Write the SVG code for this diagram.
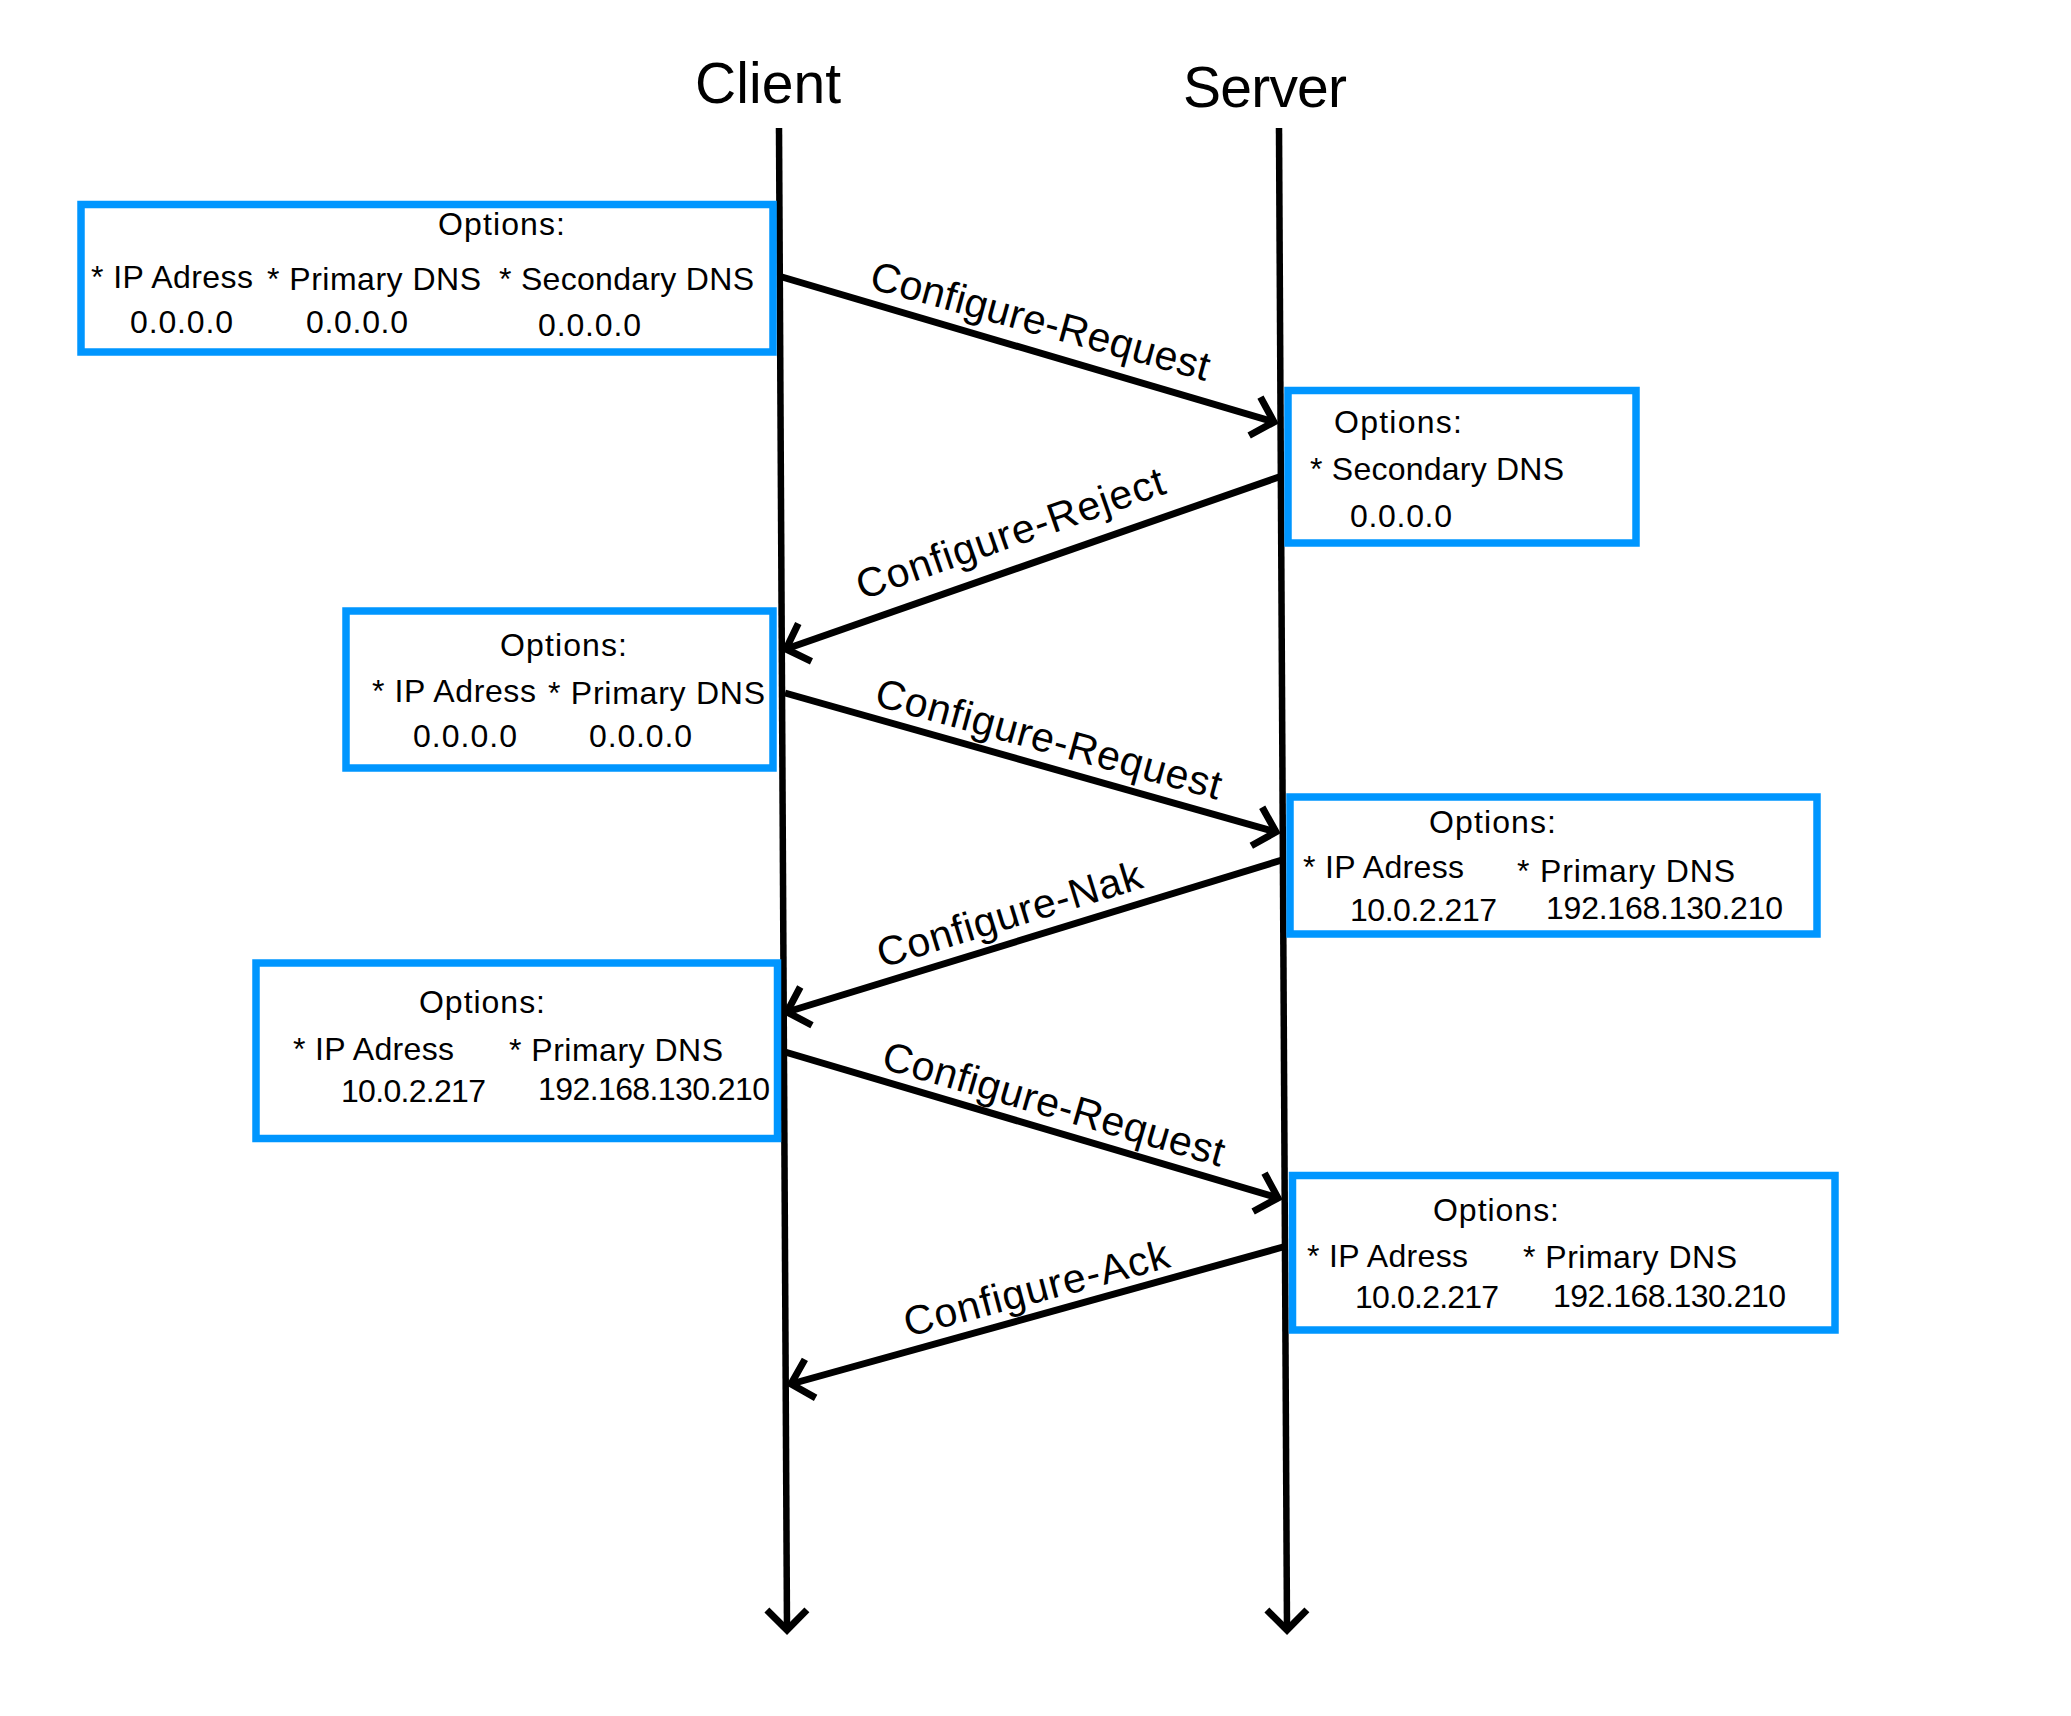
<svg xmlns="http://www.w3.org/2000/svg" width="2071" height="1716" viewBox="0 0 2071 1716">
<style>
  .box { fill: none; stroke: #0096FF; stroke-width: 7.5; }
  .t { font-family: "Liberation Sans", Arial, sans-serif; font-size: 32px; fill: #000; }
  .title { font-family: "Liberation Sans", Arial, sans-serif; font-size: 57px; fill: #000; }
  .lbl { font-family: "Liberation Sans", Arial, sans-serif; font-size: 41px; fill: #000; }
  .life { stroke: #000; stroke-width: 6.5; fill: none; }
  .msg { stroke: #000; stroke-width: 7; fill: none; marker-end: url(#vhead); }
</style>
<defs>
  <marker id="vhead" markerUnits="userSpaceOnUse" viewBox="-30 -30 40 60" refX="0" refY="0" markerWidth="40" markerHeight="60" orient="auto" overflow="visible">
    <path d="M-20,-20 L0,0 L-20,20" fill="none" stroke="#000" stroke-width="7" stroke-linejoin="miter"/>
  </marker>
</defs>
<rect width="2071" height="1716" fill="#fff"/>

<g id="client">
  <text class="title" x="695" y="103" textLength="146">Client</text>
</g>
<g id="server">
  <text class="title" x="1183" y="107" textLength="164">Server</text>
</g>

<g id="connectors">
  <line class="life" x1="779" y1="128" x2="787" y2="1630" style="marker-end:url(#vhead)"/>
  <line class="life" x1="1279" y1="128" x2="1287" y2="1630" style="marker-end:url(#vhead)"/>
  <line class="msg" x1="782" y1="277" x2="1274" y2="422"/>
  <line class="msg" x1="1279" y1="477" x2="786" y2="649"/>
  <line class="msg" x1="785" y1="693" x2="1276" y2="832"/>
  <line class="msg" x1="1282" y1="860" x2="787" y2="1012"/>
  <line class="msg" x1="785" y1="1052" x2="1278" y2="1198"/>
  <line class="msg" x1="1283" y1="1247" x2="791" y2="1384"/>
  <text class="lbl" transform="translate(868,288) rotate(15.4)" textLength="350">Configure-Request</text>
  <text class="lbl" transform="translate(862,600) rotate(-19.3)" textLength="324">Configure-Reject</text>
  <text class="lbl" transform="translate(873,705) rotate(15.4)" textLength="357">Configure-Request</text>
  <text class="lbl" transform="translate(882,968) rotate(-17.1)" textLength="275">Configure-Nak</text>
  <text class="lbl" transform="translate(880,1068) rotate(16.2)" textLength="354">Configure-Request</text>
  <text class="lbl" transform="translate(908,1337) rotate(-14.9)" textLength="273">Configure-Ack</text>
</g>

<g id="box1">
  <rect class="box" x="81" y="204.5" width="692" height="147.5"/>
  <text class="t" x="438" y="235" textLength="127">Options:</text>
  <text class="t" x="91" y="288" textLength="162">* IP Adress</text>
  <text class="t" x="267" y="290" textLength="214">* Primary DNS</text>
  <text class="t" x="499" y="290" textLength="255">* Secondary DNS</text>
  <text class="t" x="130" y="333" textLength="103">0.0.0.0</text>
  <text class="t" x="306" y="333" textLength="102">0.0.0.0</text>
  <text class="t" x="538" y="336" textLength="103">0.0.0.0</text>
</g>

<g id="box2">
  <rect class="box" x="1288" y="390.5" width="348" height="152.5"/>
  <text class="t" x="1334" y="433" textLength="128">Options:</text>
  <text class="t" x="1310" y="480" textLength="254">* Secondary DNS</text>
  <text class="t" x="1350" y="527" textLength="102">0.0.0.0</text>
</g>

<g id="box3">
  <rect class="box" x="346" y="611" width="427" height="157"/>
  <text class="t" x="500" y="656" textLength="127">Options:</text>
  <text class="t" x="372" y="702" textLength="164">* IP Adress</text>
  <text class="t" x="548" y="704" textLength="217">* Primary DNS</text>
  <text class="t" x="413" y="747" textLength="104">0.0.0.0</text>
  <text class="t" x="589" y="747" textLength="103">0.0.0.0</text>
</g>

<g id="box4">
  <rect class="box" x="1290" y="797" width="527" height="137"/>
  <text class="t" x="1429" y="833" textLength="127">Options:</text>
  <text class="t" x="1303" y="878" textLength="161">* IP Adress</text>
  <text class="t" x="1517" y="882" textLength="218">* Primary DNS</text>
  <text class="t" x="1350" y="921" textLength="147">10.0.2.217</text>
  <text class="t" x="1546" y="919" textLength="237">192.168.130.210</text>
</g>

<g id="box5">
  <rect class="box" x="256" y="963" width="521.5" height="175.5"/>
  <text class="t" x="419" y="1013" textLength="126">Options:</text>
  <text class="t" x="293" y="1060" textLength="161">* IP Adress</text>
  <text class="t" x="509" y="1061" textLength="214">* Primary DNS</text>
  <text class="t" x="341" y="1102" textLength="145">10.0.2.217</text>
  <text class="t" x="538" y="1100" textLength="232">192.168.130.210</text>
</g>

<g id="box6">
  <rect class="box" x="1292.5" y="1175.5" width="542.5" height="154.5"/>
  <text class="t" x="1433" y="1221" textLength="126">Options:</text>
  <text class="t" x="1307" y="1267" textLength="161">* IP Adress</text>
  <text class="t" x="1523" y="1268" textLength="214">* Primary DNS</text>
  <text class="t" x="1355" y="1308" textLength="144">10.0.2.217</text>
  <text class="t" x="1553" y="1307" textLength="233">192.168.130.210</text>
</g>
</svg>
